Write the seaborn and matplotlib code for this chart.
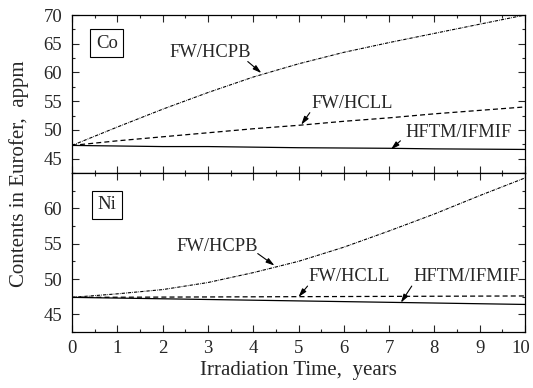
import numpy as np
import pandas as pd
import matplotlib
matplotlib.use("Agg")
import matplotlib.pyplot as plt
from matplotlib.ticker import MultipleLocator
from matplotlib.transforms import ScaledTranslation
import seaborn as sns

years = [0, 1, 2, 3, 4, 5, 6, 7, 8, 9, 10]

co_hcpb = [47.3, 50.5, 53.6, 56.5, 59.2, 61.5, 63.5, 65.2, 66.8, 68.4, 70.0]
co_hcll = [47.3, 48.1, 48.8, 49.5, 50.2, 50.8, 51.5, 52.1, 52.8, 53.4, 54.0]
co_ifmif = [47.3, 47.2, 47.1, 47.1, 47.0, 46.9, 46.85, 46.8, 46.7, 46.65, 46.6]

ni_hcpb = [47.4, 47.9, 48.5, 49.5, 50.9, 52.5, 54.5, 56.8, 59.2, 61.8, 64.3]
ni_hcll = [47.4, 47.42, 47.44, 47.46, 47.48, 47.5, 47.52, 47.54, 47.56, 47.58, 47.6]
ni_ifmif = [47.4, 47.3, 47.2, 47.1, 47.0, 46.9, 46.8, 46.7, 46.6, 46.5, 46.4]

series_names = ["FW/HCPB", "FW/HCLL", "HFTM/IFMIF"]
panels = ["Co", "Ni"]

sns.set_style("ticks")
plt.rcParams["font.family"] = ["Liberation Serif", "DejaVu Serif"]
plt.rcParams["mathtext.fontset"] = "stix"

fig = plt.figure(figsize=(5.33, 3.88), dpi=100)
L, R = 72 / 533, 525 / 533
T, M, B = 1 - 15 / 388, 1 - 173 / 388, 1 - 332 / 388
ax1 = fig.add_axes([L, M, R - L, T - M])
ax2 = fig.add_axes([L, B, R - L, M - B], sharex=ax1)

styles = {
    "FW/HCPB": dict(dashes=(3, 1, 0.6, 1), lw=0.8),
    "FW/HCLL": dict(dashes=(4, 2.5), lw=0.9),
    "HFTM/IFMIF": dict(dashes=None, lw=0.9),
}

data = {
    "Co": [co_hcpb, co_hcll, co_ifmif],
    "Ni": [ni_hcpb, ni_hcll, ni_ifmif],
}

for ax, panel in zip([ax1, ax2], panels):
    for name, vals in zip(series_names, data[panel]):
        df = pd.DataFrame({"t": years, "v": vals})
        st = styles[name]
        sns.lineplot(data=df, x="t", y="v", ax=ax, color="black", lw=st["lw"])
        line = ax.lines[-1]
        if st["dashes"] is not None:
            line.set_dashes(st["dashes"])
    ax.set_xlim(0, 10)
    ax.xaxis.set_major_locator(MultipleLocator(1))
    ax.xaxis.set_minor_locator(MultipleLocator(0.5))
    ax.yaxis.set_major_locator(MultipleLocator(5))
    ax.yaxis.set_minor_locator(MultipleLocator(2.5))
    ax.tick_params(which="both", direction="in", top=True, right=True,
                   labelsize=13.5, width=0.8)
    ax.tick_params(which="major", length=5)
    ax.tick_params(which="minor", length=2.5)
    ax.tick_params(axis="y", which="major", pad=7)
    ax.tick_params(axis="x", which="major", pad=6)
    for sp in ax.spines.values():
        sp.set_linewidth(0.9)
        sp.set_color("black")
    ax.set_xlabel("")
    ax.set_ylabel("")
    ax.text(0.77, 65.1 if panel == "Co" else 60.5, panel, fontsize=13.5,
            ha="center", va="center",
            bbox=dict(boxstyle="square,pad=0.3", fc="white", ec="black", lw=0.8))

ax1.set_ylim(42.5, 70)
ax2.set_ylim(42.5, 65)
ax1.set_yticks([45, 50, 55, 60, 65, 70])
ax2.set_yticks([45, 50, 55, 60])
plt.setp(ax1.get_xticklabels(), visible=False)

arrow = dict(arrowstyle="-|>,head_length=0.5,head_width=0.15", color="black",
             lw=0.8, shrinkA=0, shrinkB=0)
ann = [
    (ax1, "FW/HCPB", (3.04, 63.4), (4.18, 59.9), (3.88, 61.9)),
    (ax1, "FW/HCLL", (6.19, 54.55), (5.06, 50.9), (5.25, 53.0)),
    (ax1, "HFTM/IFMIF", (8.53, 49.5), (7.04, 46.6), (7.25, 48.1)),
    (ax2, "FW/HCPB", (3.2, 54.55), (4.47, 51.9), (4.1, 53.6)),
    (ax2, "FW/HCLL", (6.12, 50.3), (5.0, 47.45), (5.2, 49.0)),
    (ax2, "HFTM/IFMIF", (8.72, 50.3), (7.26, 46.65), (7.5, 49.0)),
]
for ax, txt, tpos, tip, start in ann:
    ax.text(tpos[0], tpos[1], txt, fontsize=13.3, ha="center", va="center")
    ax.annotate("", xy=tip, xytext=start, arrowprops=arrow)

ax2.set_xlabel("Irradiation Time,  years", fontsize=15, labelpad=3)
fig.text(0.036, (T + B) / 2, "Contents in Eurofer,  appm", rotation=90,
         fontsize=15, ha="center", va="center")

fig.canvas.draw()
last = ax2.xaxis.get_major_ticks()
for tk in last:
    if abs(tk.get_loc() - 10) < 1e-6:
        lab = tk.label1
        lab.set_transform(lab.get_transform() +
                          ScaledTranslation(-4 / 100, 0, fig.dpi_scale_trans))

fig.savefig("out.png", dpi=100)
